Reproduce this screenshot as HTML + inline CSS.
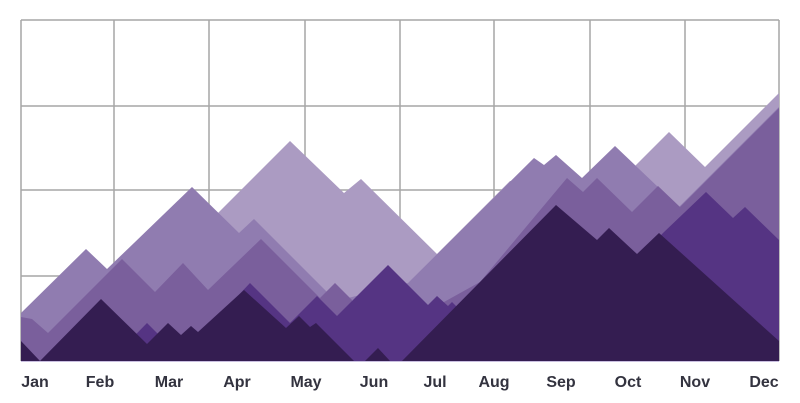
<!DOCTYPE html>
<html><head><meta charset="utf-8"><style>
html,body{margin:0;padding:0;background:#fff;}
svg{display:block;}
text{font-family:"Liberation Sans",sans-serif;font-size:16px;font-weight:bold;fill:#33333f;text-anchor:middle;}
</style></head><body>
<svg width="800" height="403" viewBox="0 0 800 403" xmlns="http://www.w3.org/2000/svg">
<g stroke="#a6a6a6" stroke-width="1.5" fill="none">
<line x1="21" y1="20" x2="779" y2="20"/>
<line x1="21" y1="106" x2="779" y2="106"/>
<line x1="21" y1="190" x2="779" y2="190"/>
<line x1="21" y1="276" x2="779" y2="276"/>
<line x1="21" y1="20" x2="21" y2="361"/>
<line x1="114" y1="20" x2="114" y2="361"/>
<line x1="209" y1="20" x2="209" y2="361"/>
<line x1="305" y1="20" x2="305" y2="361"/>
<line x1="400" y1="20" x2="400" y2="361"/>
<line x1="494" y1="20" x2="494" y2="361"/>
<line x1="590" y1="20" x2="590" y2="361"/>
<line x1="685" y1="20" x2="685" y2="361"/>
<line x1="779" y1="20" x2="779" y2="361"/>
</g>
<polygon fill="#ab9bc2" points="21,361 70,361 290,141 344,193 361,179 437,254 510,181 590,181 620,181 669,132 705,167 779,93 779,361"/>
<polygon fill="#907cb0" points="21,361 21,313 86,249 107,269 192,187 239,233 254,219 327,292 340,300 408,283 534,158 544,165 556,155 582,178 615,146 679,207 779,107 779,361"/>
<polygon fill="#7a5f9c" points="21,361 21,317 32,319 48,333 122,259 155,292 183,263 208,290 261,239 320,298 335,283 352,300 360,361 430,361 444,302 480,282 567,178 583,192 597,178 632,212 658,186 680,207 779,108 779,361"/>
<polygon fill="#553483" points="110,361 147,323 160,336 200,336 250,283 290,323 317,296 337,316 388,265 428,305 437,296 448,306 452,302 470,320 600,320 640,258 663,233 706,192 733,218 745,207 779,240 779,361"/>
<polygon fill="#341d51" points="21,361 21,341 40,361 101,299 147,344 168,323 181,335 191,326 198,332 244,290 286,328 299,316 310,327 316,323 354,361 365,361 378,348 390,361 402,361 556,205 597,240 609,228 637,254 659,233 779,341 779,361"/>
<line x1="21" y1="361.5" x2="779" y2="361.5" stroke="#c9bfe0" stroke-width="1"/>
<text x="35" y="387">Jan</text>
<text x="100" y="387">Feb</text>
<text x="169" y="387">Mar</text>
<text x="237" y="387">Apr</text>
<text x="306" y="387">May</text>
<text x="374" y="387">Jun</text>
<text x="435" y="387">Jul</text>
<text x="494" y="387">Aug</text>
<text x="561" y="387">Sep</text>
<text x="628" y="387">Oct</text>
<text x="695" y="387">Nov</text>
<text x="764" y="387">Dec</text>
</svg>
</body></html>
